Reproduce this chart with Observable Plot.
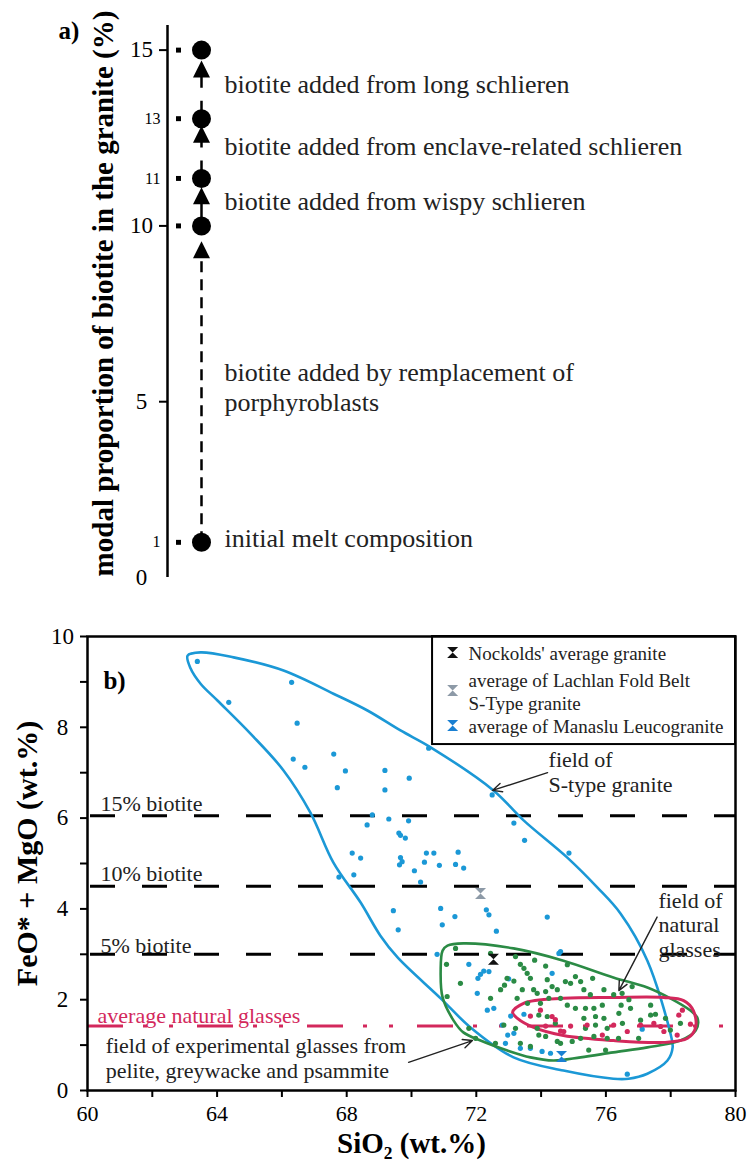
<!DOCTYPE html>
<html><head><meta charset="utf-8">
<script src="https://cdn.jsdelivr.net/npm/d3@7"></script>
<script src="https://cdn.jsdelivr.net/npm/@observablehq/plot@0.6"></script>
<style>
body{margin:0;background:#fff;}
#chart{width:749px;}
#chart svg{display:block;}
</style></head><body><div id="chart"></div>
<script>
const FONT = "'Liberation Serif','Times New Roman',serif";
const BLUE = "#1b98d6", GREEN = "#2b8b45", RED = "#d3285c", GREY = "#8d9aa7", MANASLU = "#1a80d2";

// ---------- Panel a data ----------
const majorTicksA = [5, 10, 15];
const levelPos = [1, 10, 11.35, 13.05, 15];
const levelLabel = ["1", "10", "11", "13", "15"];
const smallLabelIdx = [0, 2, 3];
const headPos = [9.32, 10.86, 12.61, 14.46];
const notesA = ["biotite added from long schlieren", "biotite added from enclave-related schlieren",
  "biotite added from wispy schlieren", "biotite added by remplacement of\nporphyroblasts",
  "initial melt composition"];
const notesAY = [14.05, 12.28, 10.72, 5.44, 1.14];

// ---------- Panel b data ----------
const xTicks = [60, 64, 68, 72, 76, 80];
const xMinorTicks = [62, 66, 70, 74, 78];
const yTicks = [0, 2, 4, 6, 8, 10];
const yMinorTicks = [1, 3, 5, 7, 9];

const biotiteLevels = [6.05, 4.5, 3.0];
const biotiteLabels = ["15% biotite", "10% biotite", "5% biotite"];
const biotiteLabelY = [6.32, 4.78, 3.19];
const avgGlassY = 1.42;

const sTypeX = [63.09,63.49,64.51,66.05,67.59,68.64,69.66,70.59,72.53,73.46,74.81,75.74,76.45,77.28,77.99,78.06,77.90,77.28,76.70,76.23,74.69,73.15,71.82,70.90,69.57,69.04,68.43,67.59,66.88,66.05,65.03,64.01,63.49,63.18];
const sTypeY = [9.58,9.65,9.54,9.25,8.74,8.37,7.93,7.56,6.61,5.95,5.13,4.47,3.90,2.86,1.26,0.95,0.66,0.37,0.26,0.26,0.44,0.73,1.39,2.03,2.93,3.41,4.14,5.02,6.12,7.05,7.86,8.59,8.96,9.30];

const expX = [71.11,71.60,73.15,74.69,76.23,77.28,77.99,78.61,78.83,78.77,78.30,77.28,76.23,75.22,74.38,73.67,72.96,72.13,71.60,71.30,70.96,70.90,70.96];
const expY = [3.19,3.24,3.13,2.86,2.49,2.27,2.03,1.76,1.59,1.32,1.10,0.95,0.84,0.73,0.66,0.73,0.88,1.10,1.28,1.54,2.05,2.64,3.08];

const natX = [73.12,73.46,74.69,76.23,77.78,78.40,78.70,78.77,78.52,77.78,76.23,74.69,73.77,73.27];
const natY = [1.72,1.92,2.03,2.05,2.05,1.98,1.76,1.39,1.15,1.06,1.10,1.21,1.39,1.59];

const sGraniteX = [63.39,64.36,66.30,66.47,66.35,66.71,67.60,67.96,67.71,69.18,69.18,69.93,70.53,68.63,68.79,69.30,69.91,69.61,69.66,69.81,68.17,68.43,69.66,69.71,69.63,70.46,70.69,70.40,70.86,71.44,71.36,71.61,70.09,67.76,68.22,70.28,69.44,69.59,70.90,70.95,71.34,72.31,72.39,72.62,70.79,72.49,73.16,73.49,74.86,74.19,74.60,71.77,72.23,72.39,72.13,72.05,73.00,72.03,72.34,72.54,72.80,72.97,73.47,74.34,74.55,74.03,76.66,77.12,73.06,73.16,73.36,72.90,74.29,73.67];
const sGraniteY = [9.45,8.55,8.99,8.09,7.30,7.12,7.41,7.04,6.67,7.05,6.62,6.88,7.54,5.85,6.07,5.98,5.94,5.67,5.62,5.56,5.23,5.12,5.13,5.04,4.97,5.23,5.23,5.03,4.96,5.25,4.98,4.90,4.84,4.70,4.75,4.59,3.96,3.54,4.01,3.65,3.83,3.98,3.87,3.51,3.00,6.51,5.89,5.51,5.23,3.82,3.06,2.78,2.63,2.62,2.56,2.47,2.46,2.14,1.77,1.81,1.44,1.22,1.68,2.58,3.02,0.86,0.36,1.35,1.64,1.26,0.93,1.04,0.82,0.93];

const expGlassX = [71.10,71.08,73.36,73.21,72.75,72.87,73.16,73.57,73.67,73.42,73.26,73.77,73.88,74.14,74.19,74.34,74.24,74.50,74.60,74.75,74.81,73.93,74.19,73.88,74.44,72.85,73.21,73.93,74.14,74.50,73.36,73.67,71.77,74.91,75.06,74.81,75.06,75.32,75.52,75.94,75.37,75.63,75.89,75.32,75.68,75.94,76.40,76.76,76.47,76.71,77.38,77.53,76.04,75.63,76.04,76.39,74.96,75.47,75.99,76.81,76.50,77.99,72.95,73.47,75.22,76.24,77.38,72.44,71.51,71.98,72.59,77.07,77.84,78.30,73.98,73.58,75.37,75.68,74.60,75.22,71.36,72.44,73.80,74.14,75.59,76.51,77.01];
const expGlassY = [2.07,2.78,2.78,2.95,2.22,2.32,2.41,2.58,2.47,2.22,2.03,2.22,2.14,2.18,2.44,2.29,2.03,2.22,2.03,2.40,2.77,1.66,1.63,1.37,1.48,1.44,1.37,1.22,1.19,1.08,1.04,0.97,1.37,2.36,2.51,1.88,1.81,2.22,2.11,2.22,1.81,1.81,1.88,1.59,1.63,1.59,1.70,1.81,1.88,2.00,1.88,1.68,1.37,1.19,1.15,1.15,1.08,0.89,0.89,2.29,2.14,1.33,2.47,2.69,2.40,2.11,1.66,2.03,2.36,1.15,1.04,1.55,1.59,1.48,1.92,1.92,1.37,1.44,1.04,1.15,3.13,3.02,2.87,2.74,2.47,1.48,1.15];

const natGlassX = [74.60,75.42,75.89,76.66,78.25,78.20,77.69,76.24,74.34,74.44,74.70,77.48,77.79,78.36,73.98,74.14,74.91,77.07,78.61,73.67];
const natGlassY = [1.31,1.44,1.22,1.30,1.66,1.22,1.41,1.44,1.63,1.56,1.30,1.48,1.30,1.77,1.77,1.42,1.42,1.44,1.46,1.64];

const avgNames = ["Nockolds' average granite", "average of Lachlan Fold Belt S-Type granite", "average of Manaslu Leucogranite"];
const avgX = [72.53, 72.13, 74.63];
const avgY = [2.89, 4.34, 0.75];
const avgColors = ["#111111", GREY, MANASLU];

// legend layout (data units of panel b)
const legendBox = {x1: 70.65, x2: 80, y1: 7.62, y2: 10};
const legendLines = ["Nockolds' average granite", "average of Lachlan Fold Belt\nS-Type granite", "average of Manaslu Leucogranite"];
const legendLineY = [9.65, 8.80, 8.04];
const legendMarkerY = [9.65, 8.81, 8.04];

const arrowsB = [
  {x1: 74.20, y1: 7.00, x2: 72.50, y2: 6.61},
  {x1: 77.58, y1: 3.82, x2: 76.40, y2: 2.20},
  {x1: 69.91, y1: 0.62, x2: 71.88, y2: 1.10}
];
const notesB = [
  {t: "field of\nS-type granite", x: 74.23, y: 7.03},
  {t: "field of\nnatural\nglasses", x: 77.62, y: 3.66},
  {t: "field of experimental glasses from\npelite, greywacke and psammite", x: 60.56, y: 0.72}
];

// ---------- symbols ----------
const hourglass = {draw(ctx, size) { const r = Math.sqrt(size / Math.PI);
  ctx.moveTo(-r, -r); ctx.lineTo(r, -r); ctx.lineTo(-r, r); ctx.lineTo(r, r); ctx.closePath(); }};
const triUp = {draw(ctx, size) { const r = Math.sqrt(size / Math.PI);
  ctx.moveTo(0, -r); ctx.lineTo(r, r); ctx.lineTo(-r, r); ctx.closePath(); }};

// ---------- Panel a ----------
const segs = headPos.map((h, i) => ({from: levelPos[i], to: h}));
const plotA = Plot.plot({
  width: 749, height: 590,
  marginLeft: 167, marginRight: 0, marginTop: 25, marginBottom: 13,
  x: {domain: [0, 1], axis: null},
  y: {domain: [0, 15.7], axis: null},
  style: {fontFamily: FONT, background: "#fff", color: "black", overflow: "visible"},
  marks: [
    Plot.ruleX([0], {y1: 0, y2: 15.7, strokeWidth: 2.5}),
    Plot.axisY({ticks: majorTicksA, tickSize: 8, tickPadding: 18, textAnchor: "middle", fontSize: 23, strokeWidth: 2, label: null}),
    Plot.axisY({ticks: [0], tickSize: 0, tickPadding: 26, textAnchor: "middle", fontSize: 23, label: null}),
    Plot.text(smallLabelIdx, {x: 0, y: i => levelPos[i], text: i => levelLabel[i], dx: -7, textAnchor: "end", fontSize: 16}),
    Plot.dot(levelPos, {x: 0, y: d => d, dx: 11, symbol: "square", r: 2.8, fill: "black"}),
    Plot.link([segs[0]], {x1: 0, x2: 0, y1: "from", y2: "to", dx: 34, strokeWidth: 2.5, strokeDasharray: "11,7"}),
    Plot.link([segs[1]], {x1: 0, x2: 0, y1: "from", y2: "to", dx: 34, strokeWidth: 2.5}),
    Plot.link(segs.slice(2), {x1: 0, x2: 0, y1: "from", y2: "to", dx: 34, strokeWidth: 2.5, strokeDasharray: "18,13"}),
    Plot.dot(levelPos, {x: 0, y: d => d, dx: 34, r: 9.5, fill: "black"}),
    Plot.dot(headPos, {x: 0, y: d => d, dx: 34, symbol: triUp, r: 8.5, fill: "black"}),
    Plot.text(notesA, {x: 0, y: (d, i) => notesAY[i], text: d => d, dx: 57, textAnchor: "start", lineAnchor: "middle", lineHeight: 1.15, fontSize: 26, fill: "#222"}),
    Plot.text(["modal proportion of biotite in the granite (%)"], {frameAnchor: "left", rotate: -90, dx: -64, dy: -8, fontSize: 29, fontWeight: "bold", textAnchor: "middle", lineAnchor: "middle"}),
    Plot.text(["a)"], {frameAnchor: "top-left", dx: -109, dy: 5, fontSize: 25, fontWeight: "bold", textAnchor: "start", lineAnchor: "middle"})
  ]
});

// ---------- Panel b ----------
const idx = n => d3.range(n);
const plotB = Plot.plot({
  width: 749, height: 571,
  marginLeft: 87, marginRight: 14, marginTop: 46, marginBottom: 71,
  x: {domain: [60, 80]},
  y: {domain: [0, 10]},
  color: {type: "identity"},
  style: {fontFamily: FONT, background: "#fff", color: "black", overflow: "visible"},
  marks: [
    Plot.ruleY(biotiteLevels, {x1: 60, x2: 80, stroke: "black", strokeWidth: 3, strokeDasharray: "25,27", strokeDashoffset: -3}),
    Plot.ruleY([avgGlassY], {x1: 60, x2: 80, stroke: RED, strokeWidth: 3, strokeDasharray: "36,20,4,22,4,24"}),
    Plot.line(idx(sTypeX.length), {x: i => sTypeX[i], y: i => sTypeY[i], curve: "catmull-rom-closed", stroke: BLUE, strokeWidth: 2.6}),
    Plot.line(idx(expX.length), {x: i => expX[i], y: i => expY[i], curve: "catmull-rom-closed", stroke: GREEN, strokeWidth: 2.6}),
    Plot.line(idx(natX.length), {x: i => natX[i], y: i => natY[i], curve: "catmull-rom-closed", stroke: RED, strokeWidth: 3}),
    Plot.dot(idx(sGraniteX.length), {x: i => sGraniteX[i], y: i => sGraniteY[i], r: 2.6, fill: BLUE}),
    Plot.dot(idx(expGlassX.length), {x: i => expGlassX[i], y: i => expGlassY[i], r: 2.6, fill: GREEN}),
    Plot.dot(idx(natGlassX.length), {x: i => natGlassX[i], y: i => natGlassY[i], r: 2.6, fill: RED}),
    Plot.dot(idx(avgX.length), {x: i => avgX[i], y: i => avgY[i], symbol: hourglass, r: 5.5, fill: i => avgColors[i], title: i => avgNames[i]}),
    Plot.rect([legendBox], {x1: "x1", x2: "x2", y1: "y1", y2: "y2", fill: "white", stroke: "black", strokeWidth: 2}),
    Plot.dot(idx(3), {x: 71.27, y: i => legendMarkerY[i], symbol: hourglass, r: 5.5, fill: i => avgColors[i]}),
    Plot.text(legendLines, {x: 71.76, y: (d, i) => legendLineY[i], text: d => d, textAnchor: "start", lineAnchor: "middle", lineHeight: 1.2, fontSize: 19, fill: "#222"}),
    Plot.arrow(arrowsB, {x1: "x1", y1: "y1", x2: "x2", y2: "y2", stroke: "#222", strokeWidth: 1.4, headLength: 11, headAngle: 50}),
    Plot.text(notesB, {x: "x", y: "y", text: "t", textAnchor: "start", lineAnchor: "middle", lineHeight: 1.12, fontSize: 22, fill: "#222"}),
    Plot.text(biotiteLabels, {x: 60.4, y: (d, i) => biotiteLabelY[i], text: d => d, textAnchor: "start", lineAnchor: "middle", fontSize: 22, fill: "#222"}),
    Plot.text(["average natural glasses"], {x: 60.31, y: 1.65, textAnchor: "start", lineAnchor: "middle", fontSize: 22, fill: RED}),
    Plot.text(["b)"], {x: 60.49, y: 9.03, textAnchor: "start", lineAnchor: "middle", fontSize: 25, fontWeight: "bold"}),
    Plot.frame({stroke: "black", strokeWidth: 2.5}),
    Plot.axisX({ticks: xTicks, tickSize: 7, tickPadding: 8, fontSize: 22, strokeWidth: 2, label: null}),
    Plot.axisX({ticks: xMinorTicks, tickSize: 7, tickFormat: () => "", strokeWidth: 2, label: null}),
    Plot.axisY({ticks: yTicks, tickSize: 7, tickPadding: 18, textAnchor: "middle", fontSize: 23, strokeWidth: 2, label: null}),
    Plot.axisY({ticks: yMinorTicks, tickSize: 7, tickFormat: () => "", strokeWidth: 2, label: null}),
    Plot.text(["FeO* + MgO (wt.%)"], {frameAnchor: "left", rotate: -90, dx: -60, dy: -10, fontSize: 30, fontWeight: "bold", textAnchor: "middle", lineAnchor: "middle"}),
    Plot.text(["SiO₂ (wt.%)"], {frameAnchor: "bottom", dy: 53, fontSize: 29, fontWeight: "bold", textAnchor: "middle", lineAnchor: "middle"})
  ]
});

const chart = document.getElementById("chart");
chart.appendChild(plotA);
chart.appendChild(plotB);
</script></body></html>
